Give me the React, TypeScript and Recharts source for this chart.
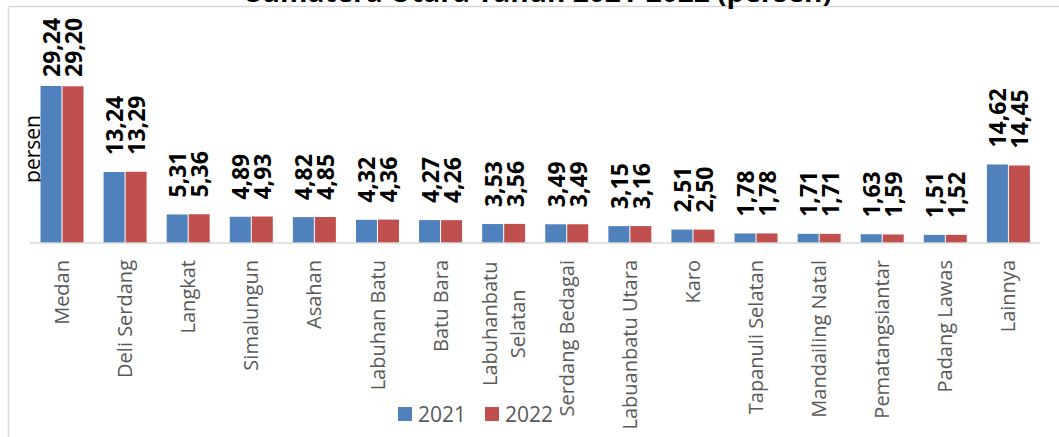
import React from "react";
import { BarChart, Bar, XAxis, YAxis, LabelList } from "recharts";

const categories = [
  "Medan",
  "Deli Serdang",
  "Langkat",
  "Simalungun",
  "Asahan",
  "Labuhan Batu",
  "Batu Bara",
  "Labuhanbatu\nSelatan",
  "Serdang Bedagai",
  "Labuanbatu Utara",
  "Karo",
  "Tapanuli Selatan",
  "Mandailing Natal",
  "Pematangsiantar",
  "Padang Lawas",
  "Lainnya",
];
const values2021 = [29.24, 13.24, 5.31, 4.89, 4.82, 4.32, 4.27, 3.53, 3.49, 3.15, 2.51, 1.78, 1.71, 1.63, 1.51, 14.62];
const values2022 = [29.2, 13.29, 5.36, 4.93, 4.85, 4.36, 4.26, 3.56, 3.49, 3.16, 2.5, 1.78, 1.71, 1.59, 1.52, 14.45];
const seriesNames = ["2021", "2022"];
const titleText = "Sumatera Utara Tahun 2021-2022 (persen)";
const yLabel = "persen";

const COLORS = ["#4F81BD", "#C0504D"];
const FONT = "'Open Sans', 'Noto Sans', sans-serif";

const data = categories.map((c, i) => ({
  name: c,
  v2021: values2021[i],
  v2022: values2022[i],
}));

const fmt = (v: number) => v.toFixed(2).replace(".", ",");

const BarValueLabel = (props: any) => {
  const { x, y, width, value } = props;
  const cx = Number(x) + Number(width) / 2;
  const sy = Math.max(Number(y) - 17, 77);
  return (
    <text
      x={0}
      y={0}
      transform={`translate(${cx},${sy}) rotate(-90)`}
      textAnchor="start"
      dominantBaseline="central"
      fontFamily={FONT}
      fontWeight={700}
      fontSize={23}
      fill="#000"
    >
      {fmt(Number(value))}
    </text>
  );
};

const CategoryTick = (props: any) => {
  const { x, y, payload } = props;
  const lines: string[] = String(payload.value).split("\n");
  const top = Number(y) + 17;
  if (lines.length === 1) {
    return (
      <text
        x={0}
        y={0}
        transform={`translate(${x},${top}) rotate(-90)`}
        textAnchor="end"
        dominantBaseline="central"
        fontFamily={FONT}
        fontSize={20}
        fill="#595959"
      >
        {lines[0]}
      </text>
    );
  }
  const maxLen = Math.max(...lines.map((l) => l.length));
  const mid = (maxLen * 11.6) / 2;
  const spacing = 28;
  return (
    <g transform={`translate(${x},${top}) rotate(-90)`}>
      {lines.map((l, i) => (
        <text
          key={i}
          x={-mid}
          y={(i - (lines.length - 1) / 2) * spacing}
          textAnchor="middle"
          dominantBaseline="central"
          fontFamily={FONT}
          fontSize={20}
          fill="#595959"
        >
          {l}
        </text>
      ))}
    </g>
  );
};

export default function App() {
  return (
    <div style={{ position: "absolute", left: 0, top: 0, width: 1059, height: 437, background: "#fff", overflow: "hidden" }}>
      <svg width={1059} height={437} style={{ position: "absolute", left: 0, top: 0 }}>
        <line x1={8.5} y1={6.5} x2={1059} y2={6.5} stroke="#D9D9D9" strokeWidth={1.5} />
        <line x1={8.5} y1={6.5} x2={8.5} y2={437} stroke="#D9D9D9" strokeWidth={1.5} />
        <text x={539} y={2} textAnchor="middle" fontFamily={FONT} fontWeight={700} fontSize={28} fill="#000">
          {titleText}
        </text>
        <text
          x={0}
          y={0}
          transform="translate(32,149) rotate(-90)"
          textAnchor="middle"
          dominantBaseline="central"
          fontFamily={FONT}
          fontSize={21}
          fill="#000"
        >
          {yLabel}
        </text>
      </svg>
      <div style={{ position: "absolute", left: 0, top: 0 }}>
        <BarChart
          width={1059}
          height={437}
          data={data}
          margin={{ top: 82, right: 19.5, bottom: 0, left: 30 }}
          barGap={1}
          barCategoryGap={10.5}
        >
          <XAxis
            dataKey="name"
            interval={0}
            height={194}
            tickLine={false}
            tickSize={0}
            tickMargin={0}
            axisLine={{ stroke: "#D9D9D9", strokeWidth: 1.5 }}
            tick={<CategoryTick />}
          />
          <YAxis hide domain={[0, 30]} />
          <Bar dataKey="v2021" name={seriesNames[0]} fill={COLORS[0]} isAnimationActive={false}>
            <LabelList dataKey="v2021" content={<BarValueLabel />} />
          </Bar>
          <Bar dataKey="v2022" name={seriesNames[1]} fill={COLORS[1]} isAnimationActive={false}>
            <LabelList dataKey="v2022" content={<BarValueLabel />} />
          </Bar>
        </BarChart>
      </div>
      <div
        style={{
          position: "absolute",
          left: 398,
          top: 402,
          display: "flex",
          alignItems: "center",
          fontFamily: FONT,
          fontSize: 21,
          color: "#595959",
        }}
      >
        {seriesNames.map((n, i) => (
          <div key={n} style={{ display: "flex", alignItems: "center", marginRight: 19 }}>
            <div style={{ width: 14, height: 14, background: COLORS[i], marginRight: 6 }} />
            <span style={{ lineHeight: "24px" }}>{n}</span>
          </div>
        ))}
      </div>
    </div>
  );
}
